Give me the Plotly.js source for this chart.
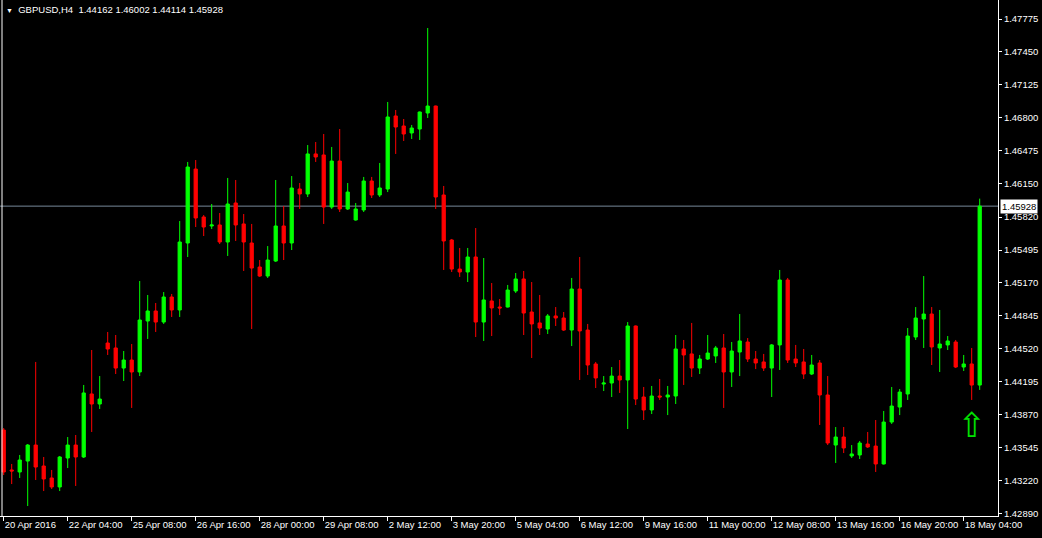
<!DOCTYPE html>
<html><head><meta charset="utf-8">
<script src="https://cdn.plot.ly/plotly-3.0.1.min.js"></script>
<style>html,body{margin:0;padding:0;background:#000;}#chart{width:1042px;height:538px;}</style>
</head><body><div id="chart"></div>
<script>
const symbol = 'GBPUSD,H4';
const openP = [1.43718,1.43324,1.43304,1.43412,1.43570,1.43363,1.43245,1.43156,1.43442,1.43570,
1.43452,1.44074,1.43975,1.44577,1.44528,1.44330,1.44409,1.44291,1.44794,1.44893,
1.44784,1.45031,1.44903,1.45564,1.46294,1.45821,1.45732,1.45742,1.45574,1.45959,
1.45752,1.45564,1.45327,1.45238,1.45386,1.45732,1.45564,1.46097,1.46048,1.46443,
1.46433,1.45919,1.46373,1.45900,1.45791,1.45890,1.46176,1.46038,1.46097,1.46818,
1.46719,1.46650,1.46689,1.46847,1.46916,1.46038,1.45594,1.45307,1.45278,1.45426,
1.44784,1.44992,1.44932,1.44932,1.45090,1.45209,1.44883,1.44775,1.44715,1.44844,
1.44824,1.44705,1.45110,1.44705,1.44370,1.44172,1.44182,1.44251,1.44212,1.44745,
1.44044,1.43916,1.44054,1.44044,1.44054,1.44518,1.44469,1.44330,1.44419,1.44449,
1.44528,1.44291,1.44488,1.44587,1.44419,1.44390,1.44330,1.44558,1.45199,1.44419,
1.44390,1.44271,1.44380,1.44064,1.43570,1.43649,1.43462,1.43472,1.43580,1.43560,
1.43383,1.43797,1.43945,1.44074,1.44636,1.44814,1.44863,1.44528,1.44558,1.44587,
1.44340,1.44370,1.44162];
const highP = [1.43738,1.43383,1.43472,1.43580,1.44390,1.43452,1.43324,1.43462,1.43649,1.43669,
1.44163,1.44508,1.44251,1.44686,1.44656,1.44498,1.44567,1.45189,1.45051,1.44972,
1.45080,1.45061,1.45781,1.46364,1.46383,1.45840,1.45949,1.45860,1.46206,1.46186,
1.45850,1.45752,1.45396,1.45534,1.46186,1.45929,1.46225,1.46156,1.46531,1.46561,
1.46640,1.46512,1.46689,1.46156,1.45959,1.46216,1.46216,1.46354,1.46956,1.46877,
1.46788,1.46729,1.46862,1.47686,1.46920,1.46127,1.45604,1.45515,1.45515,1.45712,
1.45416,1.45169,1.45011,1.45150,1.45268,1.45288,1.45179,1.45051,1.44863,1.44932,
1.44883,1.45219,1.45426,1.44765,1.44390,1.44251,1.44340,1.44409,1.44784,1.44750,
1.44143,1.44153,1.44222,1.44153,1.44656,1.44607,1.44775,1.44459,1.44656,1.44548,
1.44666,1.44587,1.44863,1.44626,1.44498,1.44469,1.44567,1.45298,1.45219,1.44558,
1.44518,1.44459,1.44409,1.44251,1.43748,1.43748,1.43570,1.43610,1.43699,1.43817,
1.43906,1.44143,1.44123,1.44725,1.44932,1.45238,1.44932,1.44903,1.44646,1.44607,
1.44459,1.44528,1.46002];
const lowP = [1.43274,1.43185,1.43245,1.42968,1.43225,1.43116,1.43136,1.43116,1.43343,1.43166,
1.43442,1.43699,1.43926,1.44459,1.44271,1.44202,1.43936,1.44251,1.44617,1.44686,
1.44765,1.44834,1.44834,1.45426,1.45722,1.45633,1.45702,1.45554,1.45436,1.45584,
1.45288,1.44715,1.45229,1.45219,1.45377,1.45396,1.45495,1.45900,1.46018,1.46364,
1.45752,1.45900,1.45870,1.45890,1.45785,1.45870,1.46008,1.46018,1.46067,1.46443,
1.46571,1.46591,1.46581,1.46798,1.45900,1.45298,1.45278,1.45229,1.45179,1.44636,
1.44597,1.44646,1.44853,1.44928,1.45071,1.44656,1.44429,1.44656,1.44666,1.44745,
1.44696,1.44547,1.44212,1.44261,1.44133,1.44103,1.44044,1.44084,1.43728,1.43965,
1.43817,1.43876,1.44015,1.43866,1.43975,1.44163,1.44242,1.44271,1.44409,1.44380,
1.43936,1.44143,1.44251,1.44390,1.44320,1.44301,1.44044,1.44311,1.44380,1.44340,
1.44222,1.44261,1.43768,1.43570,1.43393,1.43491,1.43442,1.43432,1.43541,1.43304,
1.43378,1.43778,1.43866,1.44015,1.44607,1.44528,1.44360,1.44291,1.44508,1.44330,
1.44301,1.44015,1.44114];
const closeP = [1.43304,1.43314,1.43422,1.43570,1.43353,1.43235,1.43156,1.43452,1.43570,1.43452,
1.44084,1.43975,1.44024,1.44518,1.44330,1.44409,1.44291,1.44804,1.44893,1.44784,
1.45031,1.44903,1.45574,1.46314,1.45811,1.45722,1.45742,1.45574,1.45949,1.45742,
1.45574,1.45317,1.45238,1.45396,1.45732,1.45564,1.46107,1.46048,1.46443,1.46413,
1.45919,1.46373,1.45900,1.46067,1.45900,1.46176,1.46038,1.46107,1.46808,1.46709,
1.46640,1.46699,1.46857,1.46916,1.46018,1.45584,1.45307,1.45278,1.45426,1.44784,
1.45002,1.44923,1.44923,1.45100,1.45209,1.44873,1.44765,1.44725,1.44844,1.44824,
1.44705,1.45110,1.44696,1.44360,1.44232,1.44182,1.44251,1.44212,1.44745,1.44024,
1.43916,1.44054,1.44044,1.44064,1.44518,1.44459,1.44330,1.44419,1.44478,1.44528,
1.44291,1.44498,1.44597,1.44419,1.44380,1.44330,1.44558,1.45199,1.44409,1.44380,
1.44271,1.44360,1.44064,1.43590,1.43649,1.43541,1.43482,1.43590,1.43551,1.43383,
1.43797,1.43955,1.44093,1.44646,1.44824,1.44863,1.44538,1.44567,1.44597,1.44340,
1.44370,1.44162,1.45928];
const timeTickIndex = [0,8,16,24,32,40,48,56,64,72,80,88,96,104,112,120];
const timeTickLabels = ['20 Apr 2016','22 Apr 04:00','25 Apr 08:00','26 Apr 16:00','28 Apr 00:00',
'29 Apr 08:00','2 May 12:00','3 May 20:00','5 May 04:00','6 May 12:00','9 May 16:00',
'11 May 00:00','12 May 08:00','13 May 16:00','16 May 20:00','18 May 04:00'];
const priceTicks = [1.47775,1.47450,1.47125,1.46800,1.46475,1.46150,1.45820,1.45495,
1.45170,1.44845,1.44520,1.44195,1.43870,1.43545,1.43220,1.42890];
const signalIndex = [121];
const signalPrice = [1.43738];

const n = openP.length;
const idx = openP.map((_, i) => i);
const last = n - 1;
const lastPrice = closeP[last];
const font = 'Liberation Sans, Arial, sans-serif';

const traces = [{
  type: 'candlestick', x: idx, open: openP, high: highP, low: lowP, close: closeP,
  increasing: {line: {color: '#00ff00', width: 1}, fillcolor: '#00ff00'},
  decreasing: {line: {color: '#ff0000', width: 1}, fillcolor: '#ff0000'},
  whiskerwidth: 0, hoverinfo: 'skip'
}, {
  type: 'scatter', mode: 'text', x: signalIndex, y: signalPrice, text: ['⇧'],
  textfont: {family: 'DejaVu Sans', size: 34, color: '#00e000'},
  textposition: 'middle center', hoverinfo: 'skip'
}];

const layout = {
  width: 1042, height: 538,
  paper_bgcolor: '#000', plot_bgcolor: '#000',
  margin: {l: 0, r: 44, t: 0, b: 22},
  showlegend: false, boxgap: 0.42,
  xaxis: {
    type: 'linear', range: [-0.4625, 124.2875], fixedrange: true,
    tickmode: 'array', tickvals: timeTickIndex, ticktext: timeTickLabels,
    tickangle: 0,
    ticks: 'outside', ticklen: 4, tickcolor: '#ffffff',
    ticklabelposition: 'outside right',
    showline: true, linecolor: '#ffffff', linewidth: 1,
    showgrid: false, zeroline: false,
    tickfont: {family: font, size: 9.5, color: '#ffffff'},
    rangeslider: {visible: false}
  },
  yaxis: {
    side: 'right', range: [1.428696, 1.479625], fixedrange: true,
    tickmode: 'array', tickvals: priceTicks, ticktext: priceTicks.map(v => v.toFixed(5)),
    ticks: 'outside', ticklen: 3, tickcolor: '#ffffff',
    showline: true, linecolor: '#ffffff', linewidth: 1,
    showgrid: false, zeroline: false,
    tickfont: {family: font, size: 9.5, color: '#ffffff'}
  },
  shapes: [{
    type: 'line', xref: 'paper', yref: 'y', x0: 0, x1: 1, y0: lastPrice, y1: lastPrice,
    line: {color: '#778899', width: 1}, layer: 'below'
  }, {
    type: 'line', xref: 'paper', yref: 'paper', xsizemode: 'pixel', xanchor: 0, x0: 2, x1: 2, y0: 0, y1: 1,
    line: {color: '#ffffff', width: 1}
  }],
  annotations: [{
    xref: 'paper', yref: 'paper', x: 0, y: 1, xanchor: 'left', yanchor: 'top',
    xshift: 4, yshift: -2, showarrow: false,
    text: '<span style="font-size:7px">▼</span>  ' + symbol + '  ' +
      [openP[last], highP[last], lowP[last], closeP[last]].map(v => v.toFixed(5)).join(' '),
    font: {family: font, size: 9.5, color: '#ffffff'}
  }, {
    xref: 'paper', yref: 'y', x: 1, y: lastPrice, xanchor: 'left', yanchor: 'middle',
    xshift: 2, showarrow: false, text: lastPrice.toFixed(5),
    bgcolor: '#ffffff', borderpad: 1,
    font: {family: font, size: 9.5, color: '#000000'}
  }]
};

Plotly.newPlot('chart', traces, layout, {displayModeBar: false, staticPlot: true});
</script>
</body></html>
